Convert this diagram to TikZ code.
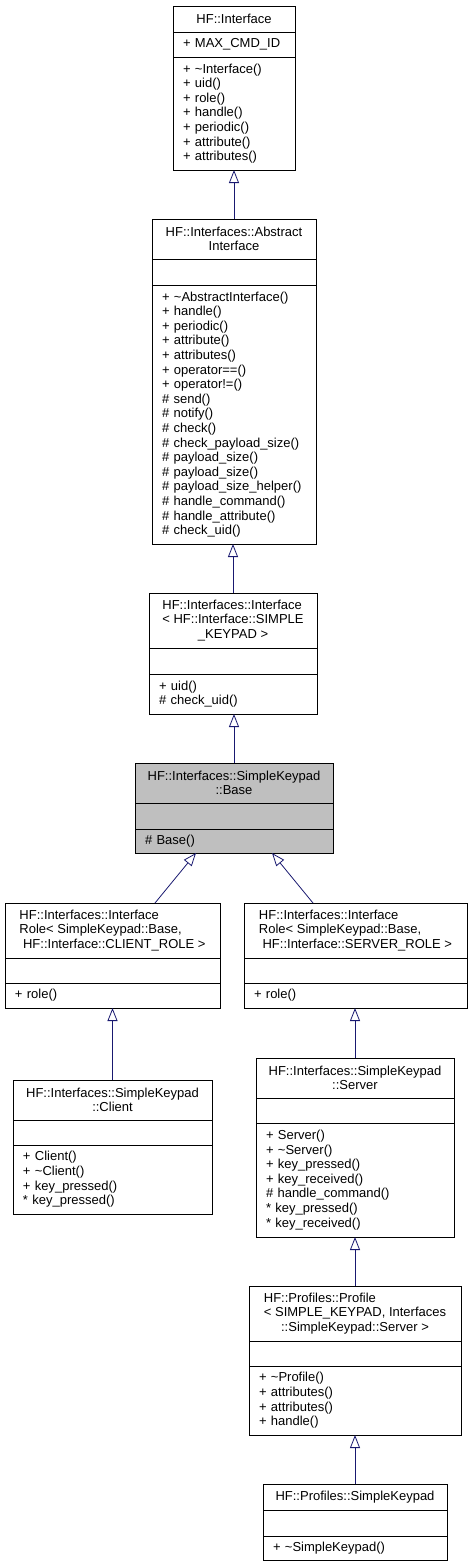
\documentclass[tikz,border=0pt]{standalone}
\usepackage{fontspec}
\newfontfamily\umlfont{Liberation Sans}
\usetikzlibrary{positioning, arrows.meta}
\definecolor{edgeblue}{HTML}{191970}
\definecolor{basegray}{HTML}{BFBFBF}
\tikzstyle{clsbox}=[draw=black, line width=0.8pt, anchor=north, outer sep=0pt,
inner ysep=0pt, align=left, font=\umlfont\fontsize{13}{14.6}\selectfont]
\tikzstyle{clsname}=[clsbox, inner xsep=0pt]
\tikzstyle{clsmem}=[clsbox, inner xsep=10pt]
\tikzstyle{focus}=[fill=basegray]
\tikzstyle{inherit}=[edgeblue, line width=0.8pt, -{Triangle[open, width=10pt, length=13pt]}]
\newcommand{\midline}[1]{\hspace*{\fill}#1\hspace*{\fill}}

\begin{document}
\begin{tikzpicture}[x=1pt, y=-1pt]
  \path[use as bounding box, fill=white] (0,0) rectangle (472,1567);
  % HF::Interface
  \node [clsname, minimum width=122pt, minimum height=26pt] (iface) at (234,6) {HF::Interface};
  \node [clsmem, text width=102pt, minimum height=25pt, below=0pt of iface] (ifaceA) {+ MAX\_CMD\_ID};
  \node [clsmem, text width=102pt, minimum height=113pt, below=0pt of ifaceA] (ifaceO)
    {+ \textasciitilde Interface()\\+ uid()\\+ role()\\+ handle()\\+ periodic()\\+ attribute()\\+ attributes()};
  % HF::Interfaces::AbstractInterface
  \node [clsname, minimum width=164pt, minimum height=40pt] (absif) at (234,219)
    {HF::Interfaces::Abstract\\\midline{Interface}};
  \node [clsmem, text width=144pt, minimum height=26pt, below=0pt of absif] (absifA) {};
  \node [clsmem, text width=144pt, minimum height=259pt, below=0pt of absifA] (absifO)
    {+ \textasciitilde AbstractInterface()\\+ handle()\\+ periodic()\\+ attribute()\\+ attributes()\\
     + operator==()\\+ operator!=()\\\# send()\\\# notify()\\\# check()\\\# check\_payload\_size()\\
     \# payload\_size()\\\# payload\_size()\\\# payload\_size\_helper()\\\# handle\_command()\\
     \# handle\_attribute()\\\# check\_uid()};
  % HF::Interfaces::Interface< SIMPLE_KEYPAD >
  \node [clsname, minimum width=168pt, minimum height=55pt] (kpif) at (233,593)
    {HF::Interfaces::Interface\\< HF::Interface::SIMPLE\\\midline{\_KEYPAD >}};
  \node [clsmem, text width=148pt, minimum height=26pt, below=0pt of kpif] (kpifA) {};
  \node [clsmem, text width=148pt, minimum height=40pt, below=0pt of kpifA] (kpifO)
    {+ uid()\\\# check\_uid()};
  % HF::Interfaces::SimpleKeypad::Base
  \node [clsname, focus, minimum width=198pt, minimum height=40pt] (base) at (234,763)
    {HF::Interfaces::SimpleKeypad\\\midline{::Base}};
  \node [clsmem, focus, text width=178pt, minimum height=26pt, below=0pt of base] (baseA) {};
  \node [clsmem, focus, text width=178pt, minimum height=24pt, below=0pt of baseA] (baseO) {\# Base()};
  % InterfaceRole< ..., CLIENT_ROLE >
  \node [clsname, minimum width=215pt, minimum height=55pt] (crole) at (112.5,903)
    {HF::Interfaces::Interface\\Role< SimpleKeypad::Base,\\\ HF::Interface::CLIENT\_ROLE >};
  \node [clsmem, text width=195pt, minimum height=25pt, below=0pt of crole] (croleA) {};
  \node [clsmem, text width=195pt, minimum height=25pt, below=0pt of croleA] (croleO) {+ role()};
  % InterfaceRole< ..., SERVER_ROLE >
  \node [clsname, minimum width=223pt, minimum height=55pt] (srole) at (355.5,903)
    {HF::Interfaces::Interface\\Role< SimpleKeypad::Base,\\\ HF::Interface::SERVER\_ROLE >};
  \node [clsmem, text width=203pt, minimum height=25pt, below=0pt of srole] (sroleA) {};
  \node [clsmem, text width=203pt, minimum height=25pt, below=0pt of sroleA] (sroleO) {+ role()};
  % HF::Interfaces::SimpleKeypad::Client
  \node [clsname, minimum width=199pt, minimum height=40pt] (client) at (112.5,1080)
    {HF::Interfaces::SimpleKeypad\\\midline{::Client}};
  \node [clsmem, text width=179pt, minimum height=25pt, below=0pt of client] (clientA) {};
  \node [clsmem, text width=179pt, minimum height=69pt, below=0pt of clientA] (clientO)
    {+ Client()\\+ \textasciitilde Client()\\+ key\_pressed()\\{*} key\_pressed()};
  % HF::Interfaces::SimpleKeypad::Server
  \node [clsname, minimum width=198pt, minimum height=40pt] (server) at (355,1058)
    {HF::Interfaces::SimpleKeypad\\\midline{::Server}};
  \node [clsmem, text width=178pt, minimum height=25pt, below=0pt of server] (serverA) {};
  \node [clsmem, text width=178pt, minimum height=114pt, below=0pt of serverA] (serverO)
    {+ Server()\\+ \textasciitilde Server()\\+ key\_pressed()\\+ key\_received()\\\# handle\_command()\\
     {*} key\_pressed()\\{*} key\_received()};
  % HF::Profiles::Profile< ... >
  \node [clsname, minimum width=212pt, minimum height=55pt] (profile) at (355,1286)
    {HF::Profiles::Profile\\< SIMPLE\_KEYPAD, Interfaces\\\midline{::SimpleKeypad::Server >}};
  \node [clsmem, text width=192pt, minimum height=25pt, below=0pt of profile] (profileA) {};
  \node [clsmem, text width=192pt, minimum height=69pt, below=0pt of profileA] (profileO)
    {+ \textasciitilde Profile()\\+ attributes()\\+ attributes()\\+ handle()};
  % HF::Profiles::SimpleKeypad
  \node [clsname, minimum width=184pt, minimum height=26pt] (skpad) at (355,1484) {HF::Profiles::SimpleKeypad};
  \node [clsmem, text width=164pt, minimum height=26pt, below=0pt of skpad] (skpadA) {};
  \node [clsmem, text width=164pt, minimum height=24pt, below=0pt of skpadA] (skpadO) {+ \textasciitilde SimpleKeypad()};

  % inheritance
  \draw [inherit] (absif.north) -- (ifaceO.south);
  \draw [inherit] (kpif.north) -- (kpif.north |- absifO.south);
  \draw [inherit] (base.north) -- (base.north |- kpifO.south);
  \draw [inherit] ([xshift=42.5pt]crole.north) -- ([xshift=-38pt]baseO.south);
  \draw [inherit] ([xshift=-42.5pt]srole.north) -- ([xshift=38pt]baseO.south);
  \draw [inherit] (client.north) -- (croleO.south);
  \draw [inherit] (server.north) -- (server.north |- sroleO.south);
  \draw [inherit] (profile.north) -- (serverO.south);
  \draw [inherit] (skpad.north) -- (profileO.south);
\end{tikzpicture}
\end{document}
